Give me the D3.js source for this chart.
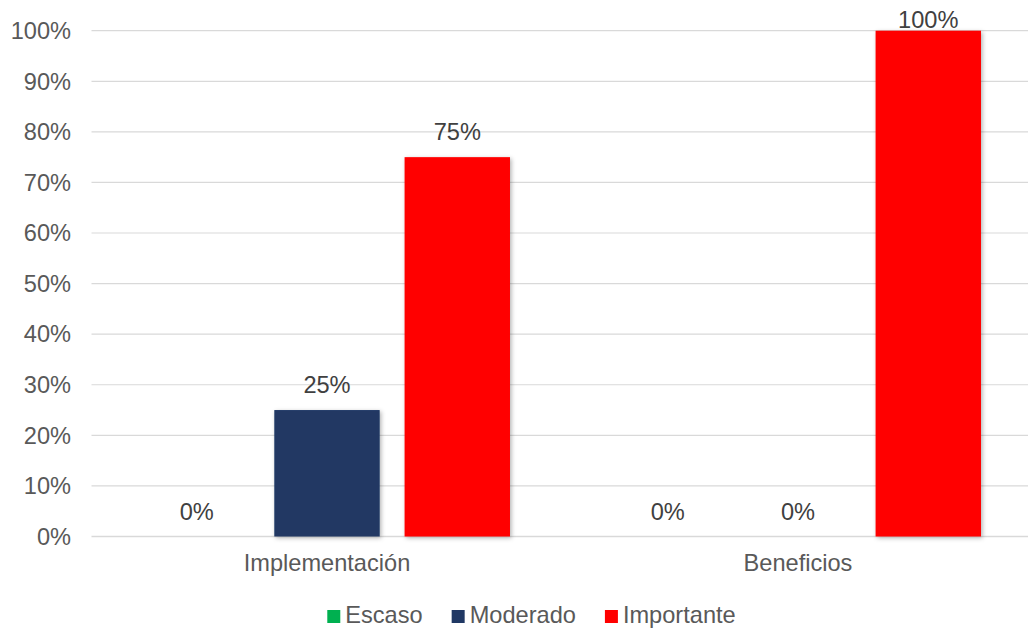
<!DOCTYPE html>
<html>
<head>
<meta charset="utf-8">
<script src="https://cdn.jsdelivr.net/npm/d3@7"></script>
<style>
  body { margin: 0; background: #fff; }
  svg { font-family: "Liberation Sans", Arial, sans-serif; }
</style>
</head>
<body>
<div id="chart"></div>
<script>
// Chart data
const categories = ['Implementación', 'Beneficios'];
const seriesNames = ['Escaso', 'Moderado', 'Importante'];
const seriesColors = ['#00B050', '#203864', '#FF0000'];
const escasoValues = [0, 0];
const moderadoValues = [25, 0];
const importanteValues = [75, 100];
const yTicks = [0, 10, 20, 30, 40, 50, 60, 70, 80, 90, 100];

const seriesValues = [escasoValues, moderadoValues, importanteValues];

const width = 1028;
const height = 629;
const fontSize = '23.6px';

const svg = d3.select('#chart')
  .append('svg')
  .attr('width', width)
  .attr('height', height);

// Soft shadow under bars
const defs = svg.append('defs');
defs.append('filter')
  .attr('id', 'shadow')
  .attr('x', '-20%').attr('y', '-20%')
  .attr('width', '140%').attr('height', '140%')
  .append('feDropShadow')
  .attr('dx', 1.5).attr('dy', 1.5)
  .attr('stdDeviation', 2)
  .attr('flood-color', '#000')
  .attr('flood-opacity', 0.3);

// Scales
const x0 = d3.scaleBand()
  .domain(categories)
  .range([91.5, 1033.5])
  .paddingInner(0.223)
  .paddingOuter(0.1115);

const x1 = d3.scaleBand()
  .domain(seriesNames)
  .range([0, x0.bandwidth()])
  .paddingInner(0.191)
  .paddingOuter(0);

const y = d3.scaleLinear()
  .domain([0, 100])
  .range([536.5, 30.7]);

// Gridlines
svg.append('g')
  .selectAll('line')
  .data(yTicks)
  .enter()
  .append('line')
  .attr('x1', 91.5)
  .attr('x2', width)
  .attr('y1', d => y(d))
  .attr('y2', d => y(d))
  .style('stroke', '#d9d9d9')
  .style('stroke-width', d => d === 0 ? 1.6 : 1.2);

// Y axis labels
svg.append('g')
  .selectAll('text')
  .data(yTicks)
  .enter()
  .append('text')
  .attr('x', 71)
  .attr('y', d => y(d))
  .attr('dy', '0.35em')
  .attr('text-anchor', 'end')
  .style('font-size', fontSize)
  .style('fill', '#595959')
  .text(d => d + '%');

// Bars
const rows = [];
categories.forEach((c, i) => {
  seriesNames.forEach((s, j) => {
    rows.push({ category: c, series: s, value: seriesValues[j][i], color: seriesColors[j] });
  });
});

svg.append('g')
  .selectAll('rect')
  .data(rows.filter(d => d.value > 0))
  .enter()
  .append('rect')
  .attr('x', d => x0(d.category) + x1(d.series))
  .attr('y', d => y(d.value))
  .attr('width', x1.bandwidth())
  .attr('height', d => y(0) - y(d.value))
  .style('fill', d => d.color)
  .attr('filter', 'url(#shadow)');

// Data labels
svg.append('g')
  .selectAll('text')
  .data(rows)
  .enter()
  .append('text')
  .attr('x', d => x0(d.category) + x1(d.series) + x1.bandwidth() / 2)
  .attr('y', d => Math.max(y(d.value) - 17, 28))
  .attr('text-anchor', 'middle')
  .style('font-size', fontSize)
  .style('fill', '#404040')
  .text(d => d.value + '%');

// Category labels
svg.append('g')
  .selectAll('text')
  .data(categories)
  .enter()
  .append('text')
  .attr('x', d => x0(d) + x0.bandwidth() / 2)
  .attr('y', 571)
  .attr('text-anchor', 'middle')
  .style('font-size', fontSize)
  .style('fill', '#595959')
  .text(d => d);

// Legend
const legend = svg.append('g');
const items = legend.selectAll('g')
  .data(seriesNames)
  .enter()
  .append('g');

items.append('rect')
  .attr('width', 13)
  .attr('height', 13)
  .attr('y', 610)
  .style('fill', (d, i) => seriesColors[i]);

items.append('text')
  .attr('x', 18)
  .attr('y', 623)
  .style('font-size', fontSize)
  .style('fill', '#595959')
  .text(d => d);

let offset = 0;
const positions = [];
items.each(function() {
  const w = 18 + d3.select(this).select('text').node().getComputedTextLength();
  positions.push(offset);
  offset += w + 29;
});
const totalWidth = offset - 29;
const legendStart = 531.5 - totalWidth / 2;
items.attr('transform', (d, i) => `translate(${legendStart + positions[i]},0)`);
</script>
</body>
</html>
